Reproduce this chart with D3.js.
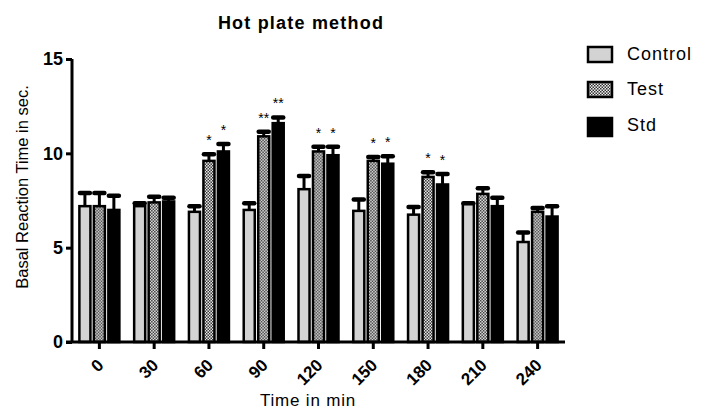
<!DOCTYPE html>
<html>
<head>
<meta charset="utf-8">
<script src="https://cdn.jsdelivr.net/npm/d3@7"></script>
<style>
  body { margin: 0; background: #fff; }
  svg { font-family: "Liberation Sans", Arial, sans-serif; }
</style>
</head>
<body>
<div id="chart"></div>
<script>
//  data
var times = ["0", "30", "60", "90", "120", "150", "180", "210", "240"];
var groups = ["Control", "Test", "Std"];
var control = [7.2, 7.2, 6.9, 7.0, 8.1, 6.95, 6.75, 7.3, 5.3];
var controlErr = [0.7, 0.15, 0.3, 0.35, 0.7, 0.6, 0.4, 0.05, 0.5];
var test = [7.2, 7.4, 9.6, 10.9, 10.1, 9.6, 8.75, 7.85, 6.9];
var testErr = [0.7, 0.3, 0.35, 0.25, 0.25, 0.2, 0.25, 0.3, 0.2];
var std = [7.0, 7.45, 10.1, 11.6, 9.9, 9.45, 8.35, 7.2, 6.65];
var stdErr = [0.75, 0.2, 0.4, 0.3, 0.45, 0.4, 0.55, 0.45, 0.55];
var testStars = ["", "", "*", "**", "*", "*", "*", "", ""];
var stdStars = ["", "", "*", "**", "*", "*", "*", "", ""];
var yTicks = [0, 5, 10, 15];

//  draw
function draw_chart() {
  const w = 702, h = 410;
  const margin = {top: 59, right: 137, bottom: 68, left: 72};

  const svg = d3.select("#chart").append("svg").attr("width", w).attr("height", h);

  // checker pattern for Test
  const defs = svg.append("defs");
  const pat = defs.append("pattern").attr("id", "checks")
    .attr("patternUnits", "userSpaceOnUse").attr("width", 3).attr("height", 3);
  pat.append("rect").attr("width", 3).attr("height", 3).attr("fill", "#ececec");
  pat.append("rect").attr("x", 0).attr("y", 0).attr("width", 1.5).attr("height", 1.5).attr("fill", "#333");
  pat.append("rect").attr("x", 1.5).attr("y", 1.5).attr("width", 1.5).attr("height", 1.5).attr("fill", "#333");

  const fills = {Control: "#d3d3d3", Test: "url(#checks)", Std: "#000"};

  const data = times.map((t, i) => ({
    time: t,
    bars: [
      {key: "Control", v: control[i], e: controlErr[i], star: ""},
      {key: "Test", v: test[i], e: testErr[i], star: testStars[i]},
      {key: "Std", v: std[i], e: stdErr[i], star: stdStars[i]}
    ]
  }));

  const x = d3.scaleBand().domain(times).range([margin.left, w - margin.right]).padding(0);
  const x1 = d3.scaleBand().domain(groups).range([-21, 21]).paddingInner(0.1);
  const y = d3.scaleLinear().domain([0, 15]).range([h - margin.bottom, margin.top]);

  const g = svg.selectAll("g.grp").data(data).enter().append("g")
    .attr("class", "grp")
    .attr("transform", d => `translate(${x(d.time) + x.bandwidth() / 2},0)`);

  const bar = g.selectAll("g.bar").data(d => d.bars).enter().append("g").attr("class", "bar");

  // error bars (upper only)
  bar.append("line")
    .attr("x1", d => x1(d.key) + x1.bandwidth() / 2)
    .attr("x2", d => x1(d.key) + x1.bandwidth() / 2)
    .attr("y1", d => y(d.v))
    .attr("y2", d => y(d.v + d.e))
    .attr("stroke", "#000").attr("stroke-width", 3);
  bar.append("line")
    .attr("x1", d => x1(d.key) + x1.bandwidth() / 2 - 5)
    .attr("x2", d => x1(d.key) + x1.bandwidth() / 2 + 5)
    .attr("y1", d => y(d.v + d.e))
    .attr("y2", d => y(d.v + d.e))
    .attr("stroke", "#000").attr("stroke-width", 4.5).attr("stroke-linecap", "round");

  bar.append("rect")
    .attr("x", d => x1(d.key) + 1)
    .attr("y", d => y(d.v))
    .attr("width", x1.bandwidth() - 2)
    .attr("height", d => y(0) - y(d.v))
    .attr("fill", d => fills[d.key])
    .attr("stroke", "#000").attr("stroke-width", 2.5);

  bar.append("text")
    .attr("x", d => x1(d.key) + x1.bandwidth() / 2)
    .attr("y", d => y(d.v + d.e) - 9)
    .attr("text-anchor", "middle")
    .style("font-size", "14px")
    .text(d => d.star);

  // axes
  const yAxis = svg.append("g")
    .attr("transform", `translate(${margin.left},0)`)
    .call(d3.axisLeft(y).tickValues(yTicks).tickSize(6).tickPadding(3));
  yAxis.select(".domain").attr("stroke-width", 3).attr("d", `M0,${y(15)}V${y(0)}`);
  yAxis.selectAll(".tick line").attr("stroke-width", 3);
  yAxis.selectAll("text").style("font-size", "18px").style("font-weight", "bold").attr("fill", "#000");

  const xAxis = svg.append("g")
    .attr("transform", `translate(0,${y(0)})`)
    .call(d3.axisBottom(x).tickSize(7));
  xAxis.select(".domain").attr("stroke-width", 3).attr("d", `M${margin.left - 6},0H${w - margin.right}`);
  xAxis.selectAll(".tick line").attr("stroke-width", 3);
  xAxis.selectAll("text")
    .style("font-size", "17px").style("font-weight", "bold").attr("fill", "#000")
    .attr("text-anchor", "end")
    .attr("dy", "0.35em")
    .attr("transform", "translate(1,20) rotate(-45)")
    .attr("y", 0).attr("x", 0);

  // labels
  svg.append("text")
    .attr("x", 301).attr("y", 29)
    .attr("text-anchor", "middle")
    .style("font-size", "18px").style("font-weight", "bold").style("letter-spacing", "1.2px")
    .text("Hot plate method");

  svg.append("text")
    .attr("transform", "translate(22,187) rotate(-90)")
    .attr("text-anchor", "middle")
    .attr("dy", "0.35em")
    .style("font-size", "16.5px")
    .text("Basal Reaction Time in sec.");

  svg.append("text")
    .attr("x", 308).attr("y", 406)
    .attr("text-anchor", "middle")
    .style("font-size", "17px").style("letter-spacing", "0.8px")
    .text("Time in min");

  // legend
  const legY = [47, 82, 118];
  const leg = svg.selectAll("g.leg").data(groups).enter().append("g").attr("class", "leg")
    .attr("transform", (d, i) => `translate(588,${legY[i]})`);
  leg.append("rect")
    .attr("width", 24).attr("height", (d, i) => i == 2 ? 18 : 15)
    .attr("fill", d => fills[d]).attr("stroke", "#000").attr("stroke-width", 2.5);
  leg.append("text")
    .attr("x", 39).attr("y", 13)
    .style("font-size", "18px").style("letter-spacing", "1px")
    .text(d => d);

  return svg.node();
}

draw_chart();
</script>
</body>
</html>
